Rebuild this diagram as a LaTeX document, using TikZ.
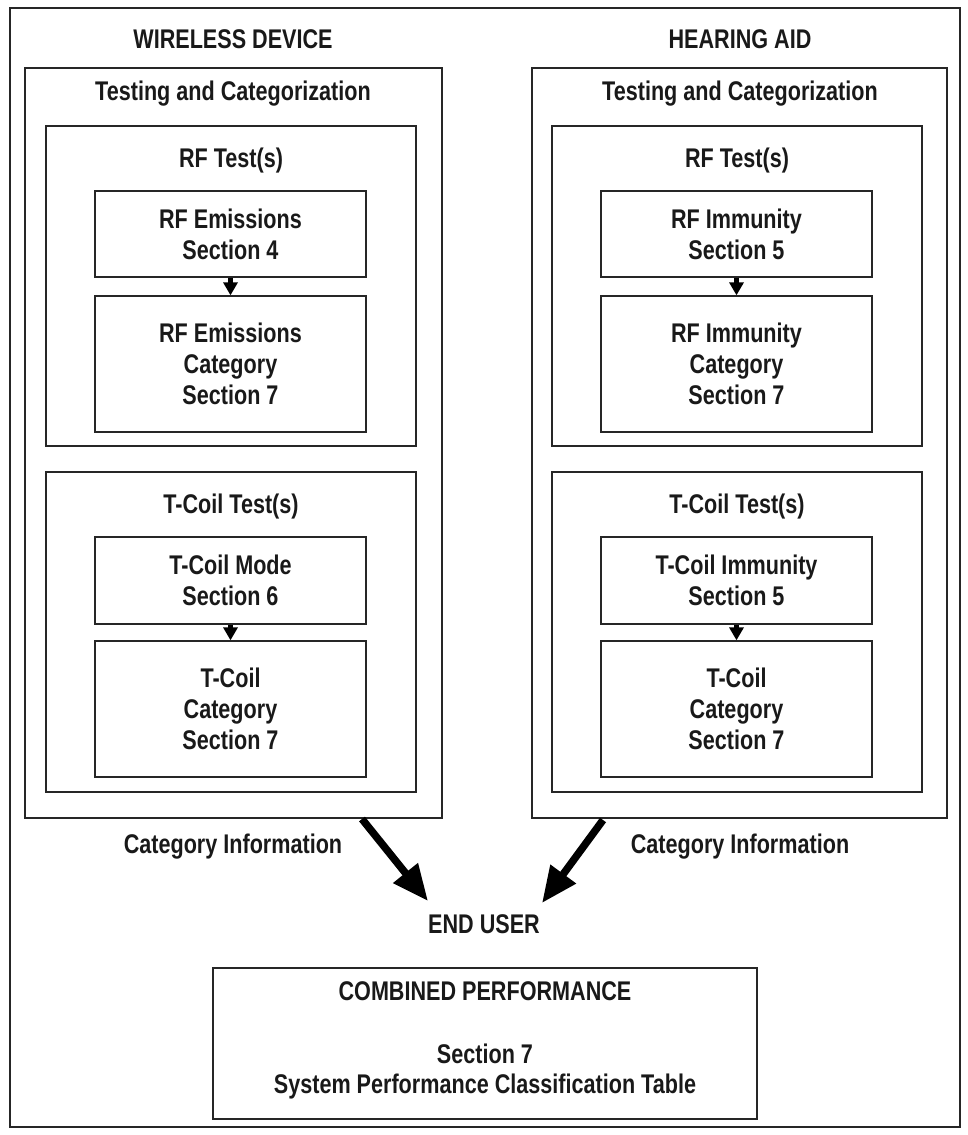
\documentclass[tikz,border=0pt]{standalone}
\usepackage{fontspec}
\setmainfont[FakeStretch=0.8]{Liberation Sans}
\usetikzlibrary{arrows.meta}

\tikzset{
  frame/.style={draw=black!85, line width=1.3pt, inner sep=0pt},
  stage/.style={frame, minimum width=271pt, align=center},
  heading/.style={anchor=base, inner sep=0pt},
  smallflow/.style={-{Triangle[length=13pt,width=14pt]}, line width=4.5pt},
  bigflow/.style={-{Triangle[length=36pt,width=30pt]}, line width=7.5pt},
}

\begin{document}
\begin{tikzpicture}[x=1pt,y=-1pt,font=\bfseries\fontsize{27}{31}\selectfont,text=black!90]
\useasboundingbox (0,0) rectangle (967,1135);
\node[frame, minimum width=950pt, minimum height=1119pt] (page) at (485,567.5) {};

% wireless device
\begin{scope}
\node[heading] (wdtitle) at (233,48) {WIRELESS DEVICE};
\node[frame, minimum width=417pt, minimum height=750pt] (wdbox) at (233.5,443) {};
\node[heading] (wdlabel) at (233,100) {Testing and Categorization};
\node[frame, minimum width=370pt, minimum height=320pt] (wdrf) at (231,286) {};
\node[heading] (wdrflabel) at (231,167) {RF Test(s)};
\node[stage, minimum height=86pt] (wdemis) at (230.5,234) {RF Emissions\\Section 4};
\node[stage, minimum height=136pt] (wdemiscat) at (230.5,364) {RF Emissions\\Category\\Section 7};
\draw[smallflow] (wdemis) -- (wdemiscat);
\node[frame, minimum width=370pt, minimum height=320pt] (wdtc) at (231,632) {};
\node[heading] (wdtclabel) at (231,513) {T-Coil Test(s)};
\node[stage, minimum height=87pt] (wdmode) at (230.5,580.5) {T-Coil Mode\\Section 6};
\node[stage, minimum height=136pt] (wdtccat) at (230.5,709) {T-Coil\\Category\\Section 7};
\draw[smallflow] (wdmode) -- (wdtccat);
\node[heading] (wdinfo) at (233,853) {Category Information};
\end{scope}

% hearing aid
\begin{scope}[xshift=506pt]
\node[heading] (hatitle) at (234,48) {HEARING AID};
\node[frame, minimum width=415pt, minimum height=750pt] (habox) at (233.5,443) {};
\node[heading] (halabel) at (234,100) {Testing and Categorization};
\node[frame, minimum width=370pt, minimum height=320pt] (harf) at (231,286) {};
\node[heading] (harflabel) at (231,167) {RF Test(s)};
\node[stage, minimum height=86pt] (haimm) at (230.5,234) {RF Immunity\\Section 5};
\node[stage, minimum height=136pt] (haimmcat) at (230.5,364) {RF Immunity\\Category\\Section 7};
\draw[smallflow] (haimm) -- (haimmcat);
\node[frame, minimum width=370pt, minimum height=320pt] (hatc) at (231,632) {};
\node[heading] (hatclabel) at (231,513) {T-Coil Test(s)};
\node[stage, minimum height=87pt] (hatcimm) at (230.5,580.5) {T-Coil Immunity\\Section 5};
\node[stage, minimum height=136pt] (hatccat) at (230.5,709) {T-Coil\\Category\\Section 7};
\draw[smallflow] (hatcimm) -- (hatccat);
\node[heading] (hainfo) at (234,853) {Category Information};
\end{scope}

% end user
\node[heading] (user) at (484,933) {END USER};
\coordinate (wdout) at (362,819);
\coordinate (haout) at (603,820);
\coordinate (userwd) at (428,901);
\coordinate (userha) at (542,903);
\draw[bigflow] (wdout) -- (userwd);
\draw[bigflow] (haout) -- (userha);

% combined performance
\node[frame, minimum width=544pt, minimum height=151pt] (combined) at (485,1043.5) {};
\node[heading] (combtitle) at (485,1000) {COMBINED PERFORMANCE};
\node[heading] (combtext) at (485,1063) {Section 7};
\node[heading] (combtable) at (485,1093) {System Performance Classification Table};
\end{tikzpicture}
\end{document}
